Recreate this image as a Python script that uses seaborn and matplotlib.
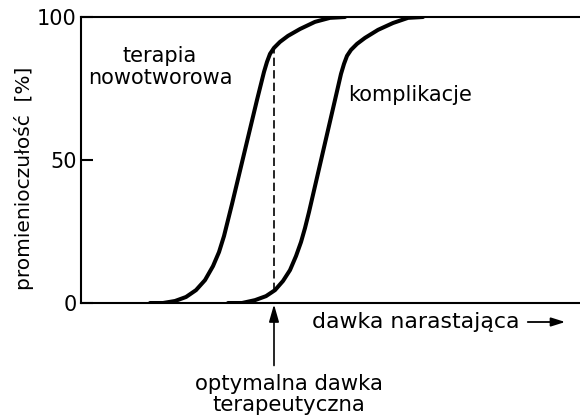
import numpy as np
import pandas as pd
import matplotlib
matplotlib.use("Agg")
import matplotlib.pyplot as plt
import seaborn as sns

# Dose (arbitrary units) and response (%) for both dose-response curves
tumour_dose = [13.8, 16.4, 18.8, 21.0, 23.0, 24.8, 26.4, 27.6, 28.6, 29.4, 30.2,
               35.2, 36.6, 37.2, 37.8, 38.6, 39.8, 41.4, 43.8, 46.8, 49.8, 52.8]
tumour_resp = [0.0, 0.0, 0.7, 2.1, 4.5, 8.0, 12.9, 17.8, 23.4, 29.0, 34.6,
               71.0, 80.8, 84.3, 87.1, 89.2, 91.3, 93.4, 95.8, 98.3, 99.7, 100.0]

compl_dose = [29.4, 32.2, 34.8, 37.0, 38.8, 40.4, 41.8, 43.0, 44.0, 44.8, 45.6,
              50.8, 52.0, 52.6, 53.2, 54.0, 55.2, 56.8, 59.4, 62.4, 65.4, 68.4]
compl_resp = [0.0, 0.0, 1.0, 2.4, 4.5, 7.7, 11.5, 16.4, 21.3, 26.2, 31.8,
              71.0, 80.1, 83.6, 86.4, 88.5, 90.6, 92.7, 95.5, 97.9, 99.7, 100.0]

optimal_dose = 38.6
y_ticks = [0, 50, 100]
y_tick_labels = ["0", "50", "100"]

sns.set_style("white")
plt.rcParams["font.family"] = ["DejaVu Sans"]
plt.rcParams["font.size"] = 15
for key in ["text.color", "axes.labelcolor", "xtick.color", "ytick.color",
            "axes.edgecolor"]:
    plt.rcParams[key] = "black"

fig = plt.figure(figsize=(5.8, 4.18), dpi=100)
ax = fig.add_axes([81 / 580, 1 - 303 / 418, 1 - 81 / 580, (303 - 17) / 418])

tumour = pd.DataFrame({"dawka": tumour_dose, "odp": tumour_resp})
compl = pd.DataFrame({"dawka": compl_dose, "odp": compl_resp})

line_kw = dict(color="black", linewidth=2.9, sort=False, estimator=None,
               solid_capstyle="round", solid_joinstyle="round", zorder=3)
sns.lineplot(data=tumour, x="dawka", y="odp", ax=ax, **line_kw)
sns.lineplot(data=compl, x="dawka", y="odp", ax=ax, **line_kw)

# Dashed marker of the optimal therapeutic dose between the two curves
y_top = np.interp(optimal_dose, tumour_dose, tumour_resp)
y_bot = np.interp(optimal_dose, compl_dose, compl_resp)
ax.plot([optimal_dose, optimal_dose], [y_bot, y_top], color="black",
        linewidth=1.2, linestyle=(0, (5, 2.5)), zorder=2)

ax.set_xlim(0, 99.8)
ax.set_ylim(0, 100)
ax.set_xticks([])
ax.set_yticks(y_ticks)
ax.set_yticklabels(y_tick_labels)
ax.tick_params(axis="y", direction="in", length=8.6, width=1.5, pad=3,
               labelsize=15, left=True)
ax.set_xlabel("")
ax.set_ylabel("promienioczułość  [%]", fontsize=14.5)
ax.yaxis.set_label_coords(-0.094, 0.437)

for side in ["left", "bottom", "top"]:
    ax.spines[side].set_visible(True)
    ax.spines[side].set_linewidth(1.5)
    ax.spines[side].set_color("black")
ax.spines["right"].set_visible(False)

ax.text(15.8, 82.5, "terapia\nnowotworowa", ha="center", va="center",
        fontsize=15, linespacing=1.15)
ax.text(53.4, 72.7, "komplikacje", ha="left", va="center", fontsize=15)

# Arrow pointing at the optimal dose on the dose axis
ax.annotate("", xy=(optimal_dose, 0), xycoords="data",
            xytext=(0, -45), textcoords="offset points",
            arrowprops=dict(arrowstyle="-|>,head_length=0.7,head_width=0.2",
                            color="black", lw=1.2, shrinkA=0, shrinkB=1),
            annotation_clip=False)
fig.text(289 / 580, 1 - 374 / 418, "optymalna dawka\nterapeutyczna",
         ha="center", va="top", fontsize=15.3, linespacing=1.08)

# Dose axis caption with its direction arrow
fig.text(312 / 580, 1 - 322 / 418, "dawka narastająca", ha="left",
         va="center", fontsize=15.8)
fig.patches.append(matplotlib.patches.FancyArrowPatch(
    (525 / 580, 1 - 322 / 418), (568 / 580, 1 - 322 / 418),
    transform=fig.transFigure, arrowstyle="-|>,head_length=0.7,head_width=0.22",
    color="black", lw=1.3, mutation_scale=12))

fig.savefig("out.png", dpi=100, facecolor="white")
